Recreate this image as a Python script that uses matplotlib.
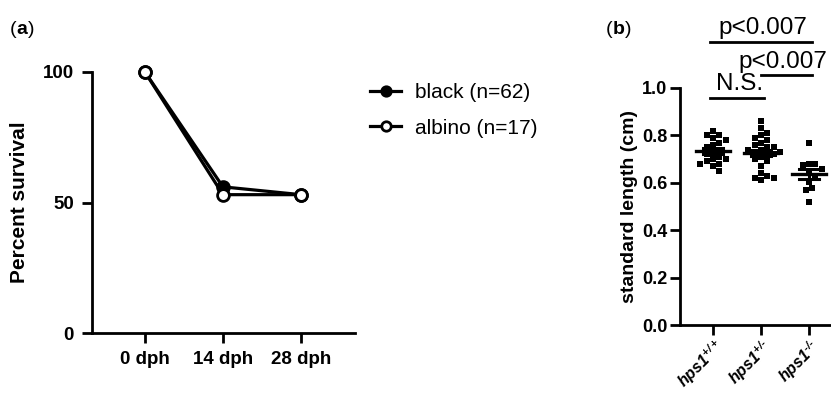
import numpy as np
import matplotlib
matplotlib.use("Agg")
import matplotlib.pyplot as plt

plt.rcParams['font.family'] = ['Liberation Sans', 'DejaVu Sans']
plt.rcParams['mathtext.fontset'] = 'custom'
plt.rcParams['mathtext.it'] = 'Liberation Sans:italic:bold'
plt.rcParams['mathtext.rm'] = 'Liberation Sans:italic:bold'

# panel (a) survival
days = [0, 14, 28]
day_labels = ['0 dph', '14 dph', '28 dph']
black_surv = [100, 56, 53]
albino_surv = [100, 53, 53]

# panel (b) standard length (cm)
genotypes = ['$\\mathit{hps1}^{+/+}$', '$\\mathit{hps1}^{+/\u2010}$', '$\\mathit{hps1}^{\u2010/\u2010}$']
wt = [0.82, 0.80, 0.80, 0.79, 0.78, 0.77, 0.76, 0.75, 0.74, 0.73,
      0.72, 0.71, 0.70, 0.70, 0.69, 0.68, 0.68, 0.67, 0.65]
het = [0.86, 0.83, 0.81, 0.80, 0.79, 0.78, 0.77, 0.76, 0.75, 0.75,
       0.74, 0.74, 0.73, 0.73, 0.72, 0.72, 0.71, 0.70, 0.69, 0.67,
       0.64, 0.63, 0.62, 0.62, 0.61]
ko = [0.77, 0.68, 0.675, 0.68, 0.66, 0.65, 0.63, 0.605, 0.58, 0.57, 0.52]
groups = [wt, het, ko]


def swarm(vals, d_px, xscale, yscale):
    # simple deterministic beeswarm, returns x offsets in data units
    order = np.argsort(vals)[::-1]
    placed = []
    offs = np.zeros(len(vals))
    for i in order:
        y = vals[i] * yscale
        k = 0
        while True:
            cands = [0.0] if k == 0 else [k * d_px * 0.5, -k * d_px * 0.5]
            ok = None
            for c in cands:
                if all((c - px) ** 2 + (y - py) ** 2 >= d_px ** 2 for px, py in placed):
                    ok = c
                    break
            if ok is not None:
                break
            k += 1
        placed.append((ok, y))
        offs[i] = ok / xscale
    return offs


fig = plt.figure(figsize=(8.31, 3.93), dpi=100)

# ---- panel a
ax = fig.add_axes([92 / 831, 1 - 333 / 393, 263 / 831, 261 / 393])
ax.plot(days, black_surv, color='black', lw=2.3, marker='o', ms=8.5,
        mfc='black', mec='black', mew=2, clip_on=False, zorder=3)
ax.plot(days, albino_surv, color='black', lw=2.3, marker='o', ms=8.5,
        mfc='white', mec='black', mew=2, clip_on=False, zorder=4)
ax.set_xlim(-9.5, 37.7)
ax.set_ylim(0, 100)
ax.set_xticks(days)
ax.set_xticklabels(day_labels)
ax.set_yticks([0, 50, 100])
ax.set_ylabel('Percent survival', fontsize=15, fontweight='bold', labelpad=10)
for s in ['top', 'right']:
    ax.spines[s].set_visible(False)
for s in ['left', 'bottom']:
    ax.spines[s].set_linewidth(2)
ax.tick_params(width=2, length=7, labelsize=13.5, pad=6)
for lab in ax.get_xticklabels() + ax.get_yticklabels():
    lab.set_fontweight('bold')

leg = fig.legend(handles=ax.get_lines(), labels=['black (n=62)', 'albino (n=17)'],
                 loc='upper left', bbox_to_anchor=(370 / 831, 1 - 83 / 393),
                 frameon=False, fontsize=15, handlelength=1.5,
                 handletextpad=0.65, labelspacing=0.8, borderpad=0,
                 borderaxespad=0, markerscale=0.8)

# ---- panel b
bx = fig.add_axes([680 / 831, 1 - 325 / 393, 151 / 831, 237 / 393])
bx.set_xlim(-0.69, 2.46)
bx.set_ylim(0, 1.0)
for i, g in enumerate(groups):
    g = np.array(g)
    off = swarm(g, 6.3, 48, 237)
    bx.scatter(i + off, g, marker='s', s=14, color='black', lw=0, zorder=3)
    m = g.mean()
    sem = g.std(ddof=1) / np.sqrt(len(g))
    bx.plot([i - 0.36, i + 0.36], [m, m], color='black', lw=2.4, zorder=4)
    bx.plot([i - 0.2, i + 0.2], [m + sem, m + sem], color='black', lw=2.2, zorder=4)
    bx.plot([i - 0.2, i + 0.2], [m - sem, m - sem], color='black', lw=2.2, zorder=4)
    bx.plot([i, i], [m - sem, m + sem], color='black', lw=2.2, zorder=4)

bx.set_xticks([0, 1, 2])
bx.set_xticklabels(genotypes, rotation=45, ha='right', va='top',
                   rotation_mode='anchor', fontsize=11.5)
bx.set_yticks([0, 0.2, 0.4, 0.6, 0.8, 1.0])
bx.set_yticklabels(['0.0', '0.2', '0.4', '0.6', '0.8', '1.0'])
bx.set_ylabel('standard length (cm)', fontsize=14, fontweight='bold', labelpad=3)
for s in ['top', 'right']:
    bx.spines[s].set_visible(False)
for s in ['left', 'bottom']:
    bx.spines[s].set_linewidth(2)
bx.tick_params(axis='y', width=2, length=7, labelsize=13, pad=2)
bx.tick_params(axis='x', width=2, length=7, pad=1)
for lab in bx.get_yticklabels():
    lab.set_fontweight('bold')

# significance bars
bars = [(-0.06, 1.06, 0.958), (-0.06, 2.06, 1.194), (1.0, 2.06, 1.055)]
for x0, x1, y in bars:
    bx.plot([x0, x1], [y, y], color='black', lw=2, clip_on=False)
tx = [(0.56, 0.97, 'N.S.'), (1.03, 1.205, 'p<0.007'), (1.46, 1.065, 'p<0.007')]
for x, y, txt in tx:
    bx.text(x, y, txt, ha='center', va='bottom', fontsize=17.5, clip_on=False)

# panel letters: "(" normal, letter bold, ")" normal
fig.canvas.draw()
r = fig.canvas.get_renderer()
for x, l in [(10, 'a'), (606, 'b')]:
    x0 = x / 831
    y0 = 1 - 30 / 393
    for part, w in [('(', 'normal'), (l, 'bold'), (')', 'normal')]:
        t = fig.text(x0, y0, part, fontsize=14, fontweight=w, va='center')
        x0 += t.get_window_extent(r).width / 831

fig.savefig('out.png', dpi=100)
